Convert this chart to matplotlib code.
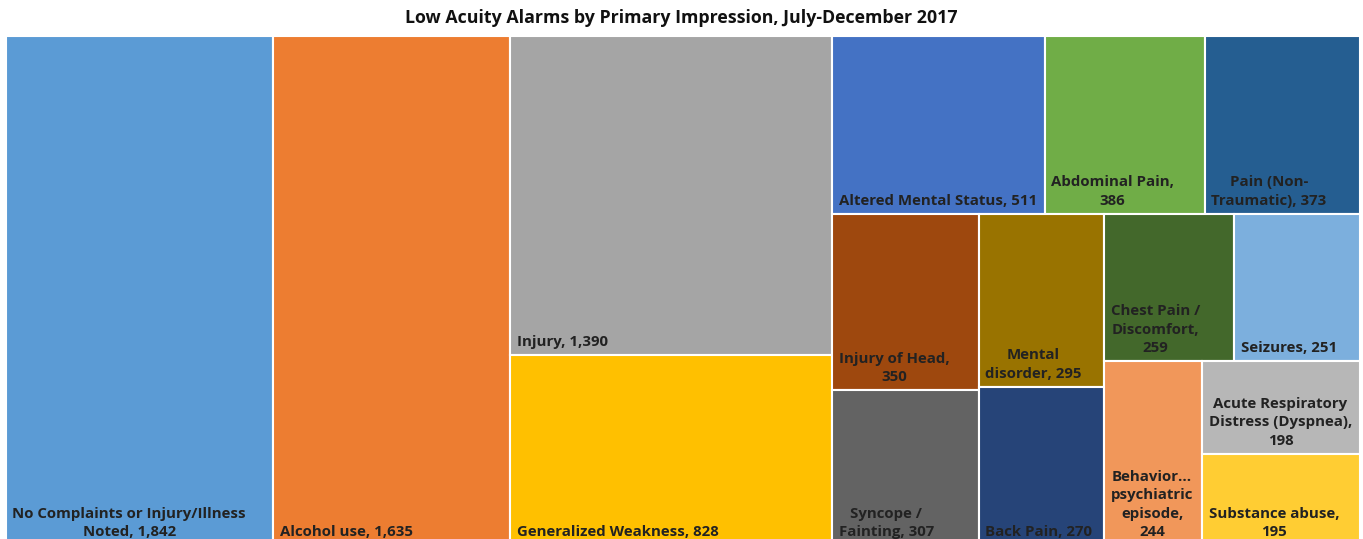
import matplotlib
matplotlib.use("Agg")
import matplotlib.pyplot as plt
from matplotlib.patches import Rectangle

# data, sorted by count (Excel sorts treemap tiles descending)
names = ["No Complaints or Injury/Illness Noted", "Alcohol use", "Injury",
         "Generalized Weakness", "Altered Mental Status", "Abdominal Pain",
         "Pain (Non-Traumatic)", "Injury of Head", "Syncope / Fainting",
         "Mental disorder", "Back Pain", "Chest Pain / Discomfort", "Seizures",
         "Behavior... psychiatric episode", "Acute Respiratory Distress (Dyspnea)",
         "Substance abuse"]
counts = [1842, 1635, 1390, 828, 511, 386, 373, 350, 307, 295, 270, 259, 251,
          244, 198, 195]
# label text as it wraps inside each tile, {} = formatted count
label_fmt = ["No Complaints or Injury/Illness\nNoted, {}", "Alcohol use, {}",
             "Injury, {}", "Generalized Weakness, {}", "Altered Mental Status, {}",
             "Abdominal Pain,\n{}", "Pain (Non-\nTraumatic), {}",
             "Injury of Head,\n{}", "Syncope /\nFainting, {}", "Mental\ndisorder, {}",
             "Back Pain, {}", "Chest Pain /\nDiscomfort,\n{}", "Seizures, {}",
             "Behavior...\npsychiatric\nepisode,\n{}",
             "Acute Respiratory\nDistress (Dyspnea),\n{}", "Substance abuse,\n{}"]
colors = ["#5B9BD5", "#ED7D31", "#A5A5A5", "#FFC000", "#4472C4", "#70AD47",
          "#255E91", "#9E480E", "#636363", "#997300", "#264478", "#43682B",
          "#7CAFDD", "#F1975A", "#B7B7B7", "#FFCD33"]
title = "Low Acuity Alarms by Primary Impression, July-December 2017"


def squarify(vals, x, y, w, h, rho=0.9):
    # strip layout: column on the left when the space is wide, row on top otherwise
    rects = []
    i = 0
    while i < len(vals):
        rest = sum(vals[i:])
        column = w * rho > h
        side = h if column else w
        other = w if column else h

        def worst(k):
            s = sum(vals[i:i + k])
            t = other * s / rest
            m = 0
            for v in vals[i:i + k]:
                r = t / (side * v / s)
                m = max(m, r / rho, rho / r)
            return m

        k = 1
        while i + k < len(vals) and worst(k + 1) <= worst(k):
            k += 1
        s = sum(vals[i:i + k])
        t = other * s / rest
        pos = 0
        for v in vals[i:i + k]:
            l = side * v / s
            if column:
                rects.append((x, y + pos, t, l))
            else:
                rects.append((x + pos, y, l, t))
            pos += l
        if column:
            x += t
            w -= t
        else:
            y += t
            h -= t
        i += k
    return rects


FW, FH = 1363, 539
fig = plt.figure(figsize=(FW / 100, FH / 100), dpi=100)
# plot area runs a little past the bottom of the picture, as in the original
AW, AH = 1354, 509
ax = fig.add_axes([6 / FW, (FH - 36 - AH) / FH, AW / FW, AH / FH])
ax.set_xlim(0, AW)
ax.set_ylim(AH, 0)
ax.axis("off")

font = ["Open Sans", "DejaVu Sans"]
for (x, y, w, h), c, n, fmt in zip(squarify(counts, 0, 0, AW, AH), colors, counts, label_fmt):
    ax.add_patch(Rectangle((x, y), w, h, facecolor=c, edgecolor="white", linewidth=1.5))
    ax.text(x + 6.5, y + h - 6, fmt.format(f"{n:,}"), ha="left", va="bottom",
            multialignment="center", fontsize=10.8, fontweight="bold",
            color="#222222", family=font, linespacing=1.4)

fig.text(0.5, 1 - 18 / FH, title, ha="center", va="center", fontsize=12.8,
         fontweight="bold", color="#111111", family=font)

fig.savefig("out.png", dpi=100)
